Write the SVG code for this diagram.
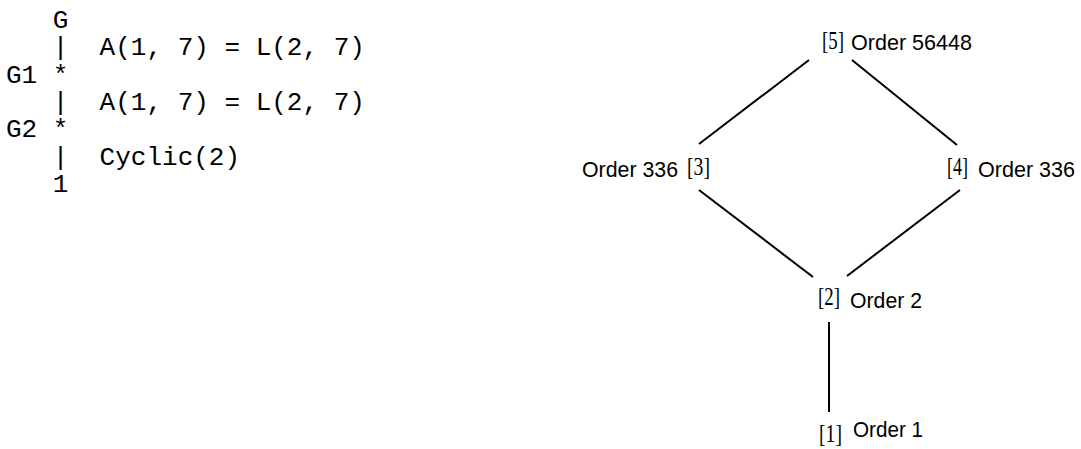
<svg xmlns="http://www.w3.org/2000/svg" width="1081" height="449" viewBox="0 0 1081 449">
  <style>
    .tt { font-family: "Liberation Mono", "DejaVu Sans Mono", monospace; font-size: 26px; fill: #000; white-space: pre; }
    .lbl { font-family: "Liberation Sans", Arial, sans-serif; font-size: 22px; fill: #000; }
    .num { font-family: "Liberation Serif", "Times New Roman", serif; font-size: 25px; fill: #000; }
    .edge { stroke: #000; stroke-width: 2; fill: none; }
  </style>
  <rect width="1081" height="449" fill="#fff"/>

  <!-- composition series printed as plain text -->
  <g id="series">
    <text class="tt" x="6" y="28">   G</text>
    <text class="tt" x="6" y="55">   |  A(1, 7) = L(2, 7)</text>
    <text class="tt" x="6" y="83">G1 *</text>
    <text class="tt" x="6" y="110">   |  A(1, 7) = L(2, 7)</text>
    <text class="tt" x="6" y="137">G2 *</text>
    <text class="tt" x="6" y="165">   |  Cyclic(2)</text>
    <text class="tt" x="6" y="192">   1</text>
  </g>

  <!-- subgroup lattice edges -->
  <g id="connectors">
    <line class="edge" x1="809" y1="60" x2="699" y2="144"/>
    <line class="edge" x1="852" y1="60" x2="957" y2="145"/>
    <line class="edge" x1="699" y1="190" x2="813" y2="277"/>
    <line class="edge" x1="960" y1="190" x2="847" y2="276"/>
    <line class="edge" x1="829" y1="322" x2="829" y2="412"/>
  </g>

  <g id="node5">
    <text class="num" x="822" y="49" textLength="22" lengthAdjust="spacingAndGlyphs">[5]</text>
    <text class="lbl" x="851" y="50" textLength="121" lengthAdjust="spacingAndGlyphs">Order 56448</text>
  </g>
  <g id="node3">
    <text class="lbl" x="582" y="177" textLength="96" lengthAdjust="spacingAndGlyphs">Order 336</text>
    <text class="num" x="687" y="175" textLength="23" lengthAdjust="spacingAndGlyphs">[3]</text>
  </g>
  <g id="node4">
    <text class="num" x="947" y="175" textLength="21" lengthAdjust="spacingAndGlyphs">[4]</text>
    <text class="lbl" x="978" y="177" textLength="97" lengthAdjust="spacingAndGlyphs">Order 336</text>
  </g>
  <g id="node2">
    <text class="num" x="818" y="305" textLength="22" lengthAdjust="spacingAndGlyphs">[2]</text>
    <text class="lbl" x="850" y="308" textLength="72" lengthAdjust="spacingAndGlyphs">Order 2</text>
  </g>
  <g id="node1">
    <text class="num" x="819" y="442" textLength="23" lengthAdjust="spacingAndGlyphs">[1]</text>
    <text class="lbl" x="853" y="437" textLength="70" lengthAdjust="spacingAndGlyphs">Order 1</text>
  </g>
</svg>
